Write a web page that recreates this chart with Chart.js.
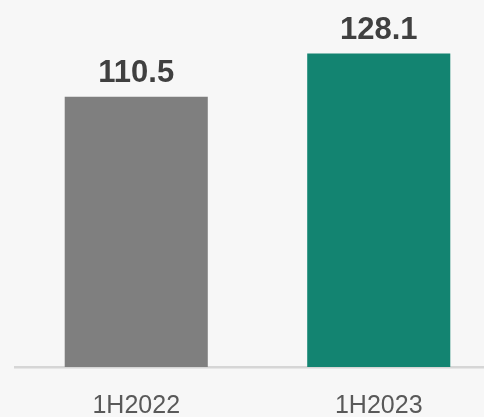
<!DOCTYPE html>
<html>
<head>
<meta charset="utf-8">
<script src="https://cdn.jsdelivr.net/npm/chart.js@4/dist/chart.umd.min.js"></script>
<style>
  html, body { margin: 0; padding: 0; background: #f7f7f7; overflow: hidden; }
  #wrap { position: absolute; left: 0; top: 0; width: 500px; height: 417px; }
</style>
</head>
<body>
<div id="wrap"><canvas id="salesChart"></canvas></div>
<script>
// 半年度数据
const periods = ['1H2022', '1H2023'];
const values = [110.5, 128.1];
const barColors = ['#7f7f7f', '#138471'];

// 柱顶数值标签
const valueLabels = {
    id: 'valueLabels',
    afterDatasetsDraw(chart) {
        const ctx = chart.ctx;
        const meta = chart.getDatasetMeta(0);
        ctx.save();
        ctx.font = 'bold 31px "Liberation Sans", Arial, sans-serif';
        ctx.fillStyle = '#404040';
        ctx.textAlign = 'center';
        ctx.textBaseline = 'alphabetic';
        meta.data.forEach((bar, i) => {
            ctx.fillText(values[i].toFixed(1), bar.x, bar.y - 15);
        });
        ctx.restore();
    }
};

const ctx = document.getElementById('salesChart');
new Chart(ctx, {
    type: 'bar',
    data: {
        labels: periods,
        datasets: [{
            data: values,
            backgroundColor: barColors,
            borderWidth: 0,
            barPercentage: 0.59,
            categoryPercentage: 1
        }]
    },
    options: {
        responsive: true,
        maintainAspectRatio: false,
        animation: false,
        layout: { padding: { left: 15, right: 0, top: 0, bottom: 0 } },
        plugins: {
            legend: { display: false },
            tooltip: { enabled: false }
        },
        scales: {
            x: {
                grid: { display: false, drawTicks: false },
                border: { display: true, color: '#d6d6d6', width: 2.5 },
                ticks: {
                    color: '#595959',
                    font: { family: '"Liberation Sans", Arial, sans-serif', size: 25 },
                    padding: 24
                },
                // 固定底部轴高度
                afterFit(scale) { scale.height = 50; }
            },
            y: {
                display: false,
                min: 0,
                max: 150
            }
        }
    },
    plugins: [valueLabels]
});
</script>
</body>
</html>
